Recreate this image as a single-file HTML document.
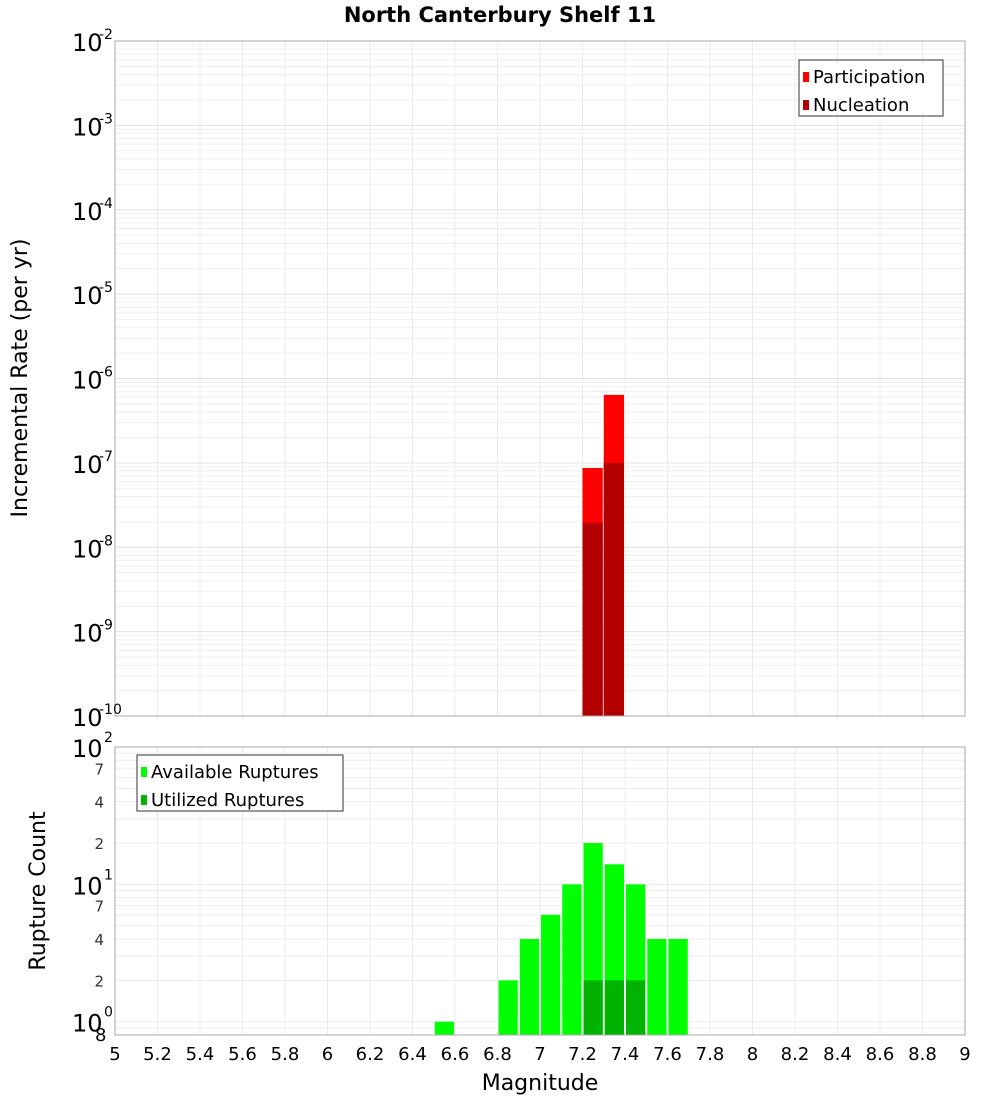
<!DOCTYPE html>
<html><head><meta charset="utf-8"><style>
body{margin:0;background:#fff;font-family:"Liberation Sans","DejaVu Sans",sans-serif}
svg text{font-family:"DejaVu Sans","Liberation Sans",sans-serif}
</style></head><body>
<svg id="c" width="1000" height="1100" xmlns="http://www.w3.org/2000/svg">
<text x="500" y="22" text-anchor="middle" font-size="21" font-weight="bold">North Canterbury Shelf 11</text>
<text transform="translate(27,378) rotate(-90)" text-anchor="middle" font-size="22">Incremental Rate (per yr)</text>
<text transform="translate(45,891) rotate(-90)" text-anchor="middle" font-size="22">Rupture Count</text>
<text x="540" y="1090" text-anchor="middle" font-size="22">Magnitude</text>
<g id="g"></g>
</svg>
<script>
const binStarts=[7.2,7.3];
const participation=[8.7e-8,6.4e-7];
const nucleation=[1.95e-8,1.0e-7];
const availStarts=[6.5,6.8,6.9,7.0,7.1,7.2,7.3,7.4,7.5,7.6];
const available=[1,2,4,6,10,20,14,10,4,4];
const utilStarts=[7.2,7.3,7.4];
const utilized=[2,2,2];
const xTicks=[5,5.2,5.4,5.6,5.8,6,6.2,6.4,6.6,6.8,7,7.2,7.4,7.6,7.8,8,8.2,8.4,8.6,8.8,9];
const topExp=[-10,-9,-8,-7,-6,-5,-4,-3,-2];
const botMinor=[2,4,7,20,40,70];

const NS="http://www.w3.org/2000/svg",g=document.getElementById('g');
function el(t,a,txt){const e=document.createElementNS(NS,t);for(const k in a)e.setAttribute(k,a[k]);if(txt!==undefined)e.textContent=txt;g.appendChild(e);return e;}
const L=115,R=965;
const X=v=>L+(v-5)/4*(R-L);
const T0=41,T1=716;
const YT=v=>T1-(Math.log10(v)+10)/8*(T1-T0);
const B0=747,B1=1035,bmin=Math.log10(0.8);
const YB=v=>B1-(Math.log10(v)-bmin)/(2-bmin)*(B1-B0);

// grids
for(const t of xTicks){
 let e=el('line',{x1:X(t),x2:X(t),y1:T0,y2:T1,stroke:'#ebebeb'});
 
 e=el('line',{x1:X(t),x2:X(t),y1:B0,y2:B1,stroke:'#ebebeb'});
 
}
for(let p=-10;p<-2;p++)for(let m=1;m<10;m++){
 const y=YT(m*Math.pow(10,p));
 const e=el('line',{x1:L,x2:R,y1:y,y2:y,stroke:m==1?'#e0e0e0':'#efefef'});
 
}
for(const v of [0.8,0.9,1,2,3,4,5,6,7,8,9,10,20,30,40,50,60,70,80,90]){
 const y=YB(v);
 const e=el('line',{x1:L,x2:R,y1:y,y2:y,stroke:'#ededed'});
 
}
// top bars
const w=X(5.1)-X(5);
participation.forEach((v,i)=>{
 const e=el('rect',{x:X(binStarts[i]),y:YT(v),width:w-1,height:T1-YT(v),fill:'#ff0000'});
 
});
nucleation.forEach((v,i)=>{
 const e=el('rect',{x:X(binStarts[i]),y:YT(v),width:w-1,height:T1-YT(v),fill:'#b30000'});
 
});
available.forEach((v,i)=>{
 const e=el('rect',{x:X(availStarts[i])+1,y:YB(v),width:w-2,height:B1-YB(v),fill:'#00ff00'});
 
});
utilized.forEach((v,i)=>{
 const e=el('rect',{x:X(utilStarts[i])+1,y:YB(v),width:w-2,height:B1-YB(v),fill:'#00b300'});
 
});
// frames
let f=el('rect',{x:L,y:T0,width:R-L,height:T1-T0,fill:'none',stroke:'#aaa'});

f=el('rect',{x:L,y:B0,width:R-L,height:B1-B0,fill:'none',stroke:'#aaa'});

// x ticks
for(const t of xTicks){
 const e=el('text',{x:X(t),y:1060,'text-anchor':'middle','font-size':18},String(t));
 
}
// top y labels
for(const p of topExp){
 const y=YT(Math.pow(10,p));
 const e=el('text',{x:72,y:y+10,'font-size':24},'10');
 
 const s=el('text',{x:99,y:y-2,'font-size':14},String(p));
 
}
// bottom y labels
[[0,1],[1,10],[2,100]].forEach(([p,v])=>{
 const y=YB(v);
 const e=el('text',{x:72,y:y+10,'font-size':24},'10');
 
 const s=el('text',{x:104,y:y-5,'font-size':14},String(p));
 
});
for(const v of botMinor){
 const e=el('text',{x:104,y:YB(v)+6,'text-anchor':'end','font-size':15,fill:'#333'},String(v<10?v:v/10));
 
}
let e8=el('text',{x:95,y:1041,'font-size':18},'8');

// legends
function legend(x,y,wd,items,nm){
 const b=el('rect',{x:x,y:y,width:wd,height:56,fill:'#fff',stroke:'#333'});
 
 items.forEach(([c,t],i)=>{
  const s=el('rect',{x:x+4,y:y+12+i*28,width:6,height:10,fill:c});
  
  const tx=el('text',{x:x+14,y:y+23+i*28,'font-size':18},t);
  
 });
}
legend(799,60,144,[['#ff0000','Participation'],['#b30000','Nucleation']],'top-legend');
legend(137,755,206,[['#00ff00','Available Ruptures'],['#00b300','Utilized Ruptures']],'bottom-legend');
</script>
</body></html>
